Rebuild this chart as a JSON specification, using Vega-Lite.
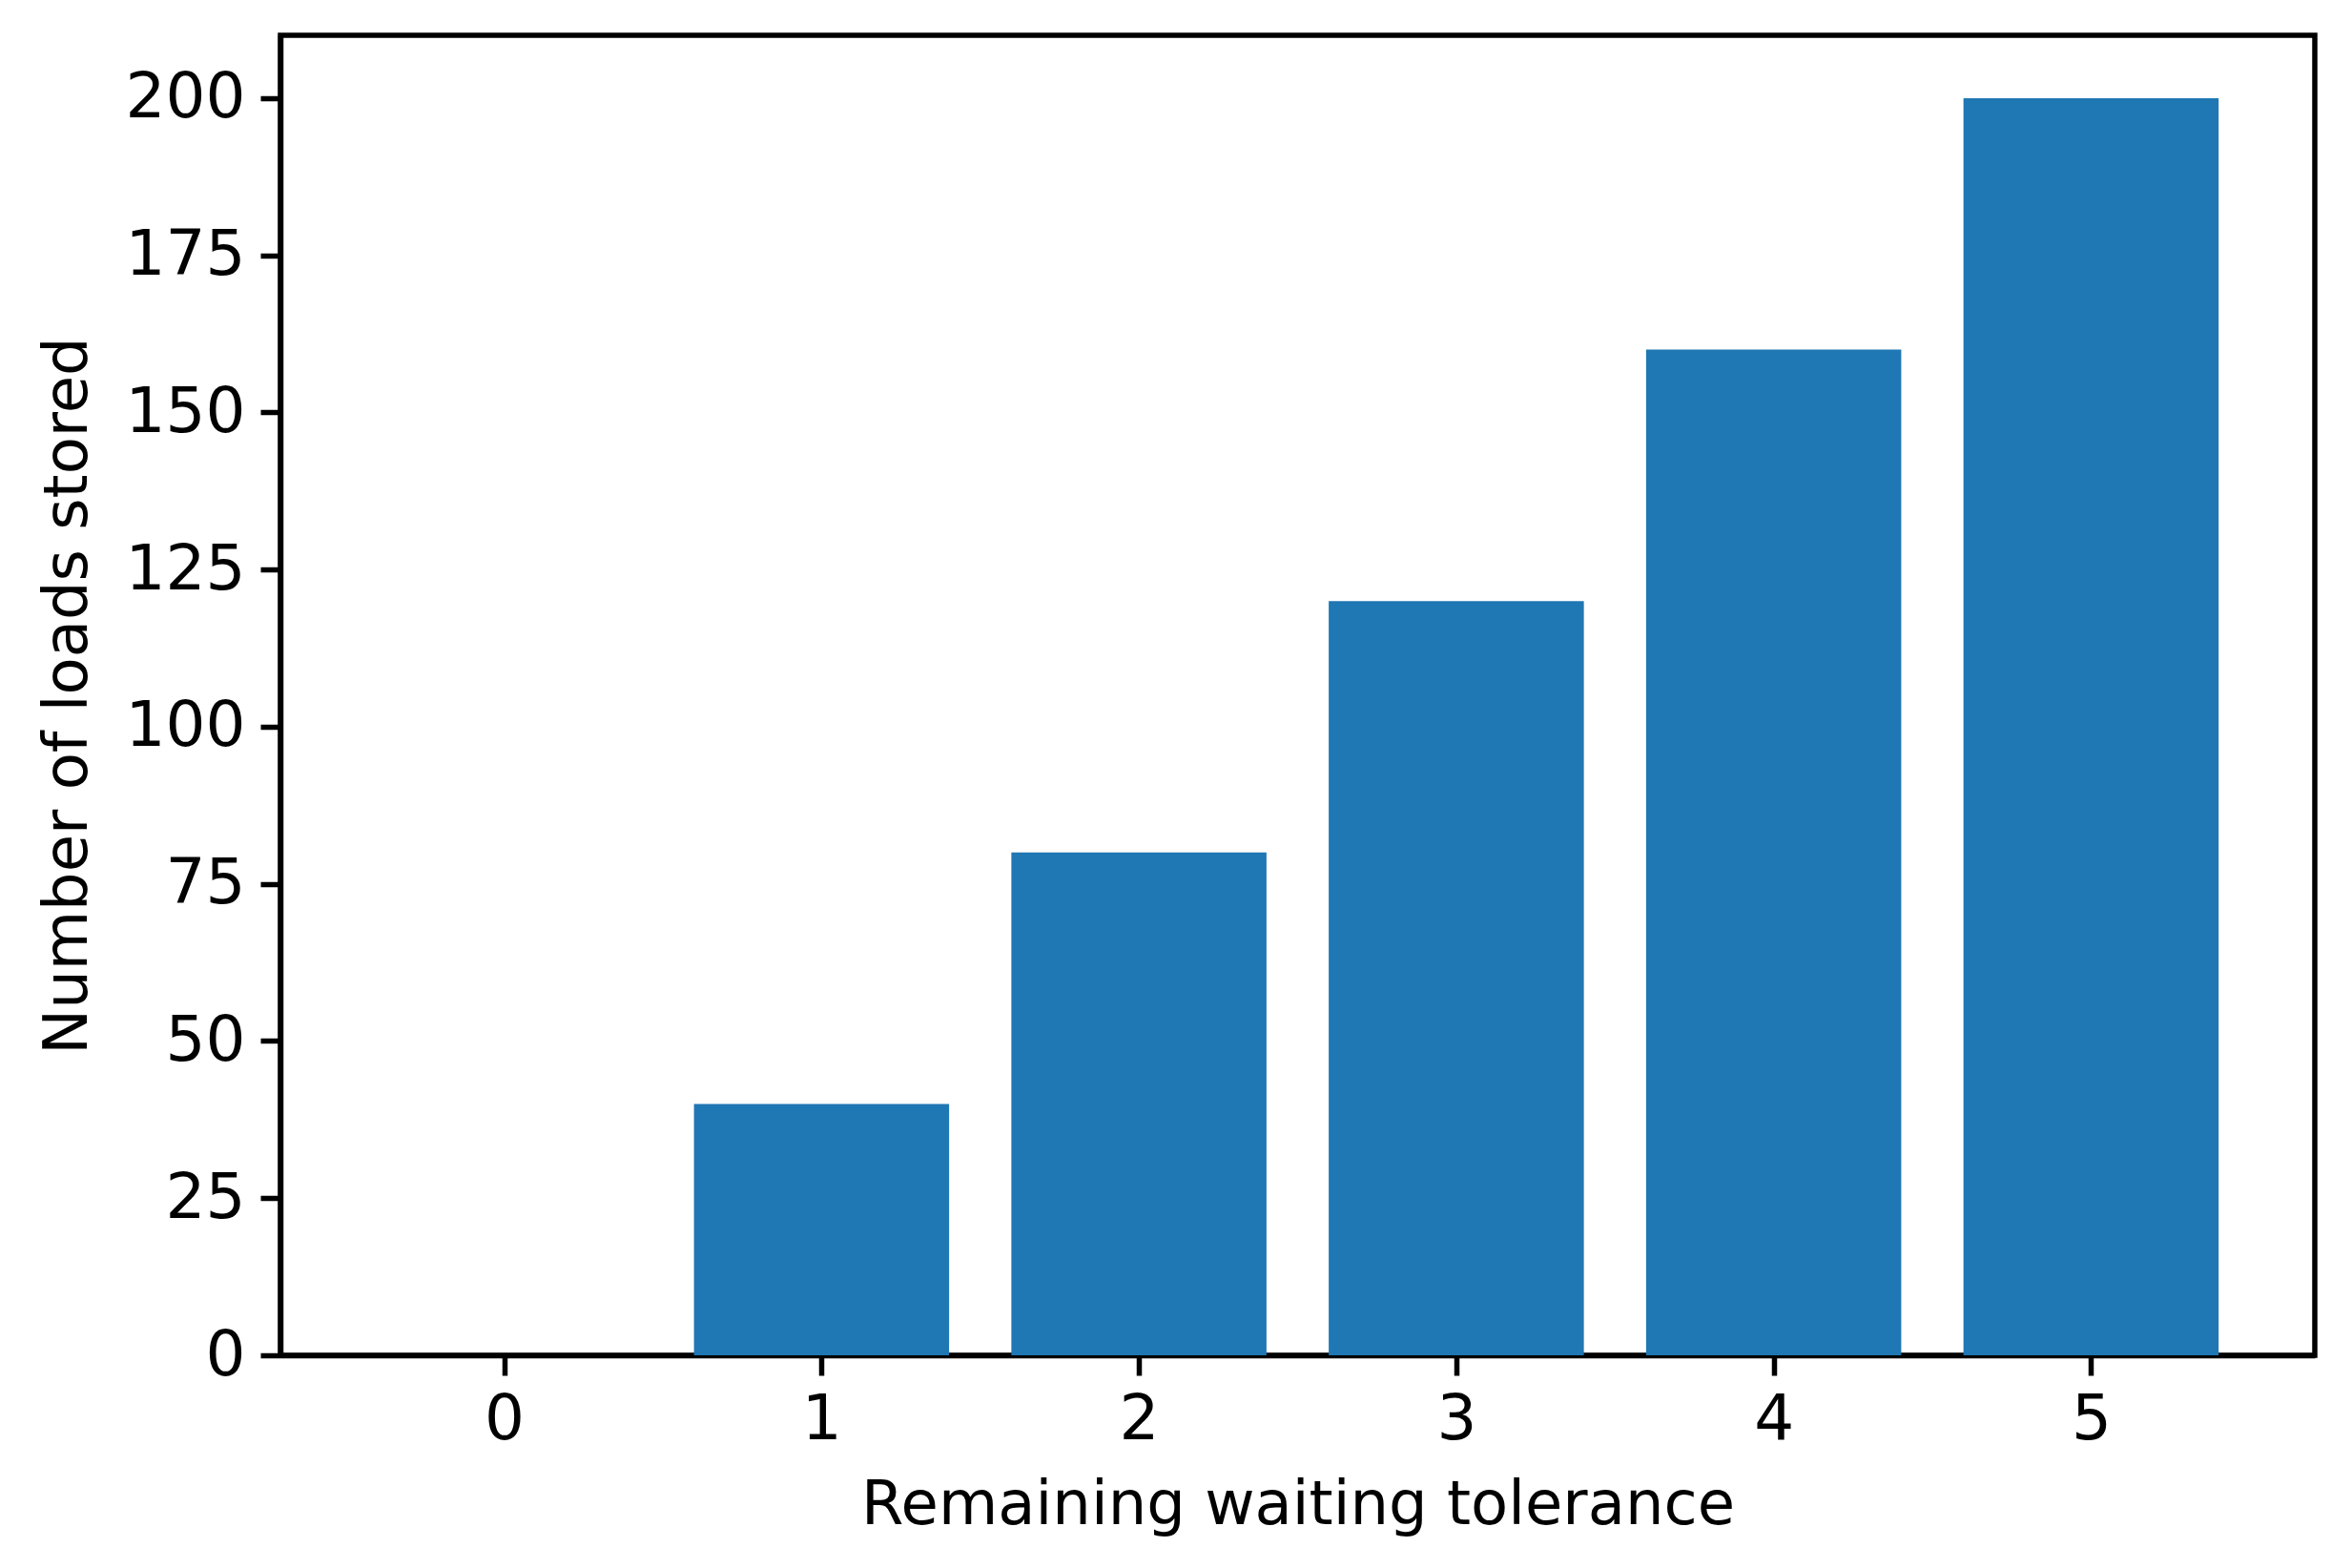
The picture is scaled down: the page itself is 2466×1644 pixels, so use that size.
{
  "$schema": "https://vega.github.io/schema/vega-lite/v6.json",
  "autosize": "none",
  "width": 2133,
  "height": 1384,
  "padding": {"left": 294, "top": 37, "right": 39, "bottom": 223},
  "background": "white",
  "config": {
    "view": {"stroke": "black", "strokeWidth": 5.5},
    "axis": {
      "grid": false,
      "domainColor": "black",
      "domainWidth": 5.5,
      "tickColor": "black",
      "tickWidth": 5.5,
      "tickSize": 21,
      "labelFont": "DejaVu Sans",
      "labelFontSize": 66,
      "labelColor": "black",
      "titleFont": "DejaVu Sans",
      "titleFontSize": 64,
      "titleFontWeight": "normal",
      "titleColor": "black"
    }
  },
  "data": {
    "values": [
      {"tolerance": 0, "loads": 0},
      {"tolerance": 1, "loads": 40},
      {"tolerance": 2, "loads": 80},
      {"tolerance": 3, "loads": 120},
      {"tolerance": 4, "loads": 160},
      {"tolerance": 5, "loads": 200}
    ]
  },
  "mark": {"type": "bar", "color": "#1f77b4", "width": 267.5},
  "encoding": {
    "x": {
      "field": "tolerance",
      "type": "quantitative",
      "scale": {"domain": [-0.69, 5.69], "nice": false, "zero": false},
      "axis": {
        "title": "Remaining waiting tolerance",
        "values": [0, 1, 2, 3, 4, 5],
        "format": "d",
        "labelPadding": 14,
        "titlePadding": 25
      }
    },
    "y": {
      "field": "loads",
      "type": "quantitative",
      "scale": {"domain": [0, 210], "nice": false},
      "axis": {
        "title": "Number of loads stored",
        "values": [0, 25, 50, 75, 100, 125, 150, 175, 200],
        "labelPadding": 16,
        "titlePadding": 28
      }
    }
  }
}
